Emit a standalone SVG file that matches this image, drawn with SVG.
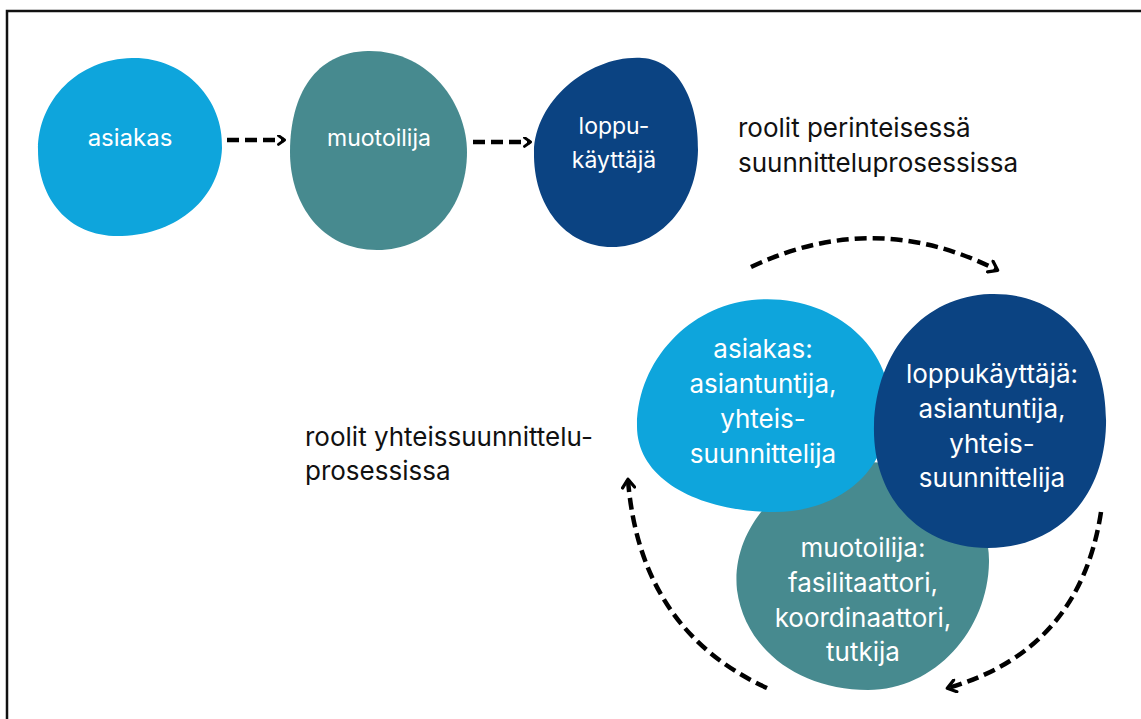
<svg xmlns="http://www.w3.org/2000/svg" width="1141" height="719" viewBox="0 0 1141 719">
  <style>
    .lbl { font-family: Inter, "Liberation Sans", sans-serif; fill: #ffffff; text-anchor: middle; }
    .cap { font-family: Inter, "Liberation Sans", sans-serif; fill: #111111; }
    .conn { fill: none; stroke: #000000; stroke-width: 4.5; stroke-dasharray: 12 6; }
    .sky { fill: #0ea5dc; }
    .teal { fill: #478a8f; }
    .navy { fill: #0b4382; }
  </style>
  <defs>
    <marker id="head" viewBox="0 0 10 10" refX="7" refY="5" markerWidth="11" markerHeight="11" markerUnits="userSpaceOnUse" orient="auto">
      <path d="M2,1 L7.5,5 L2,9" fill="none" stroke="#000000" stroke-width="2.6" stroke-linecap="round" stroke-linejoin="round"/>
    </marker>
    <marker id="headL" viewBox="0 0 10 10" refX="7" refY="5" markerWidth="15" markerHeight="15" markerUnits="userSpaceOnUse" orient="auto">
      <path d="M2,1 L7.5,5 L2,9" fill="none" stroke="#000000" stroke-width="2.2" stroke-linecap="round" stroke-linejoin="round"/>
    </marker>
  </defs>

  <rect width="1141" height="719" fill="#ffffff"/>
  <!-- frame -->
  <path d="M7,730 L7,11 L1150,11" fill="none" stroke="#111111" stroke-width="2.5"/>

  <!-- traditional process row -->
  <g id="node-asiakas">
    <path class="sky" d="M132,58 C185,57 224,100 222,148 C220,198 178,234 122,236 C70,238 38,200 38,150 C38,100 78,59 132,58 Z"/>
    <text class="lbl" x="130" y="146" font-size="24">asiakas</text>
  </g>
  <g id="node-muotoilija">
    <path class="teal" d="M368,51 C430,50 467,105 467,152 C467,208 430,250 377,250 C322,250 290,205 290,152 C290,95 315,52 368,51 Z"/>
    <text class="lbl" x="379" y="146" font-size="23">muotoilija</text>
  </g>
  <g id="node-loppukayttaja">
    <path class="navy" d="M642,58 C680,60 699,105 698,150 C697,205 660,247 612,247 C565,247 533,205 534,152 C535,100 590,55 642,58 Z"/>
    <text class="lbl" x="614" y="134" font-size="23">loppu-</text>
    <text class="lbl" x="614" y="168" font-size="23">käyttäjä</text>
  </g>
  <g id="caption-traditional">
    <text class="cap" x="738" y="137" font-size="26">roolit perinteisessä</text>
    <text class="cap" x="738" y="172" font-size="26">suunnitteluprosessissa</text>
  </g>

  <!-- co-design process cluster -->
  <g id="node-co-muotoilija">
    <path class="teal" d="M860,462 C930,460 990,500 989,562 C988,630 935,690 868,690 C800,690 745,650 737,590 C730,525 790,464 860,462 Z"/>
    <text class="lbl" x="863" y="557" font-size="26">muotoilija:</text>
    <text class="lbl" x="863" y="592" font-size="26">fasilitaattori,</text>
    <text class="lbl" x="863" y="627" font-size="26">koordinaattori,</text>
    <text class="lbl" x="863" y="661" font-size="26">tutkija</text>
  </g>
  <g id="node-co-asiakas">
    <path class="sky" d="M752,300 C830,292 890,345 890,405 C890,475 835,512 775,512 C700,512 636,480 637,425 C638,360 690,306 752,300 Z"/>
    <text class="lbl" x="763" y="358" font-size="26">asiakas:</text>
    <text class="lbl" x="763" y="393" font-size="26">asiantuntija,</text>
    <text class="lbl" x="763" y="428" font-size="26">yhteis-</text>
    <text class="lbl" x="763" y="463" font-size="26">suunnittelija</text>
  </g>
  <g id="node-co-loppukayttaja">
    <path class="navy" d="M990,294 C1060,292 1108,345 1106,425 C1104,500 1055,548 988,548 C920,548 872,498 874,425 C876,350 925,296 990,294 Z"/>
    <text class="lbl" x="992" y="383" font-size="26">loppukäyttäjä:</text>
    <text class="lbl" x="992" y="418" font-size="26">asiantuntija,</text>
    <text class="lbl" x="992" y="453" font-size="26">yhteis-</text>
    <text class="lbl" x="992" y="487" font-size="26">suunnittelija</text>
  </g>
  <g id="caption-codesign">
    <text class="cap" x="305" y="446" font-size="26">roolit yhteissuunnittelu-</text>
    <text class="cap" x="305" y="480" font-size="26">prosessissa</text>
  </g>

  <!-- connectors -->
  <g id="connectors">
    <path class="conn" d="M227,140 L284,140" marker-end="url(#head)"/>
    <path class="conn" d="M473,142 L530,142" marker-end="url(#head)"/>
    <path class="conn" d="M751,267 Q875,208 997,270" marker-end="url(#headL)"/>
    <path class="conn" d="M1101,512 Q1080,650 948,688" marker-end="url(#headL)"/>
    <path class="conn" d="M767,688 Q640,630 628,480" marker-end="url(#headL)"/>
  </g>
</svg>
